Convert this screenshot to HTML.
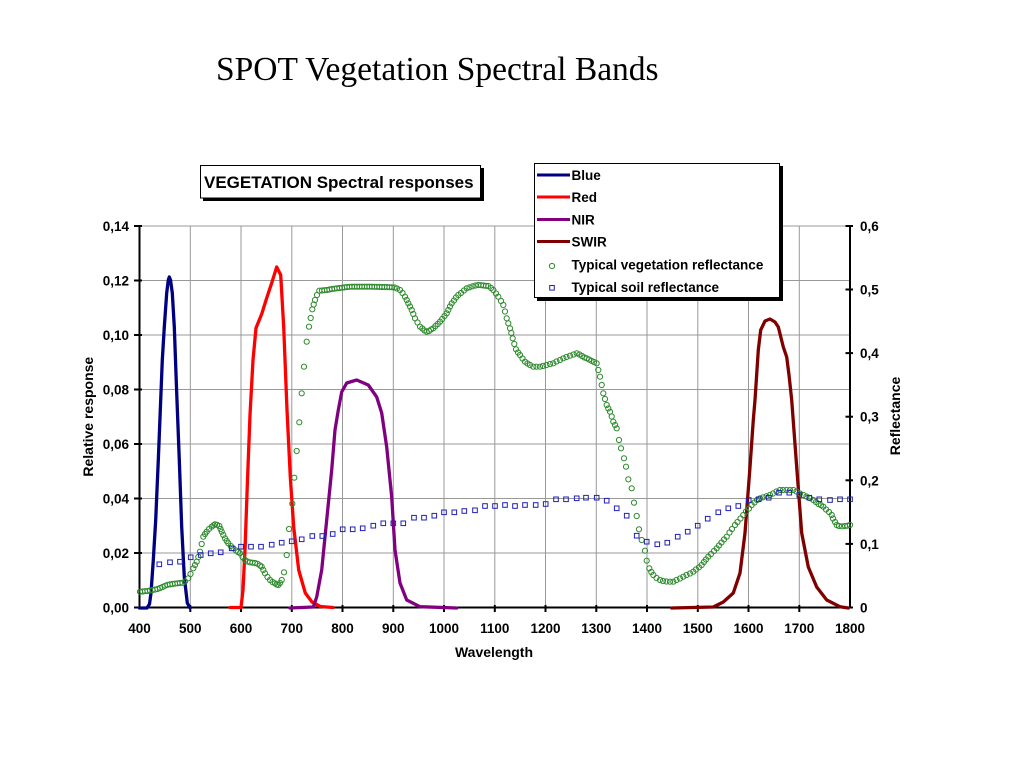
<!DOCTYPE html>
<html><head><meta charset="utf-8"><style>
html,body{margin:0;padding:0;background:#fff;width:1024px;height:768px;overflow:hidden}
svg{display:block}
.t{font-family:"Liberation Sans",Arial,sans-serif;font-weight:bold;font-size:13.5px;fill:#000}
</style></head><body>
<svg width="1024" height="768" viewBox="0 0 1024 768" xmlns="http://www.w3.org/2000/svg">
<defs>
<marker id="c" markerWidth="8" markerHeight="8" refX="4" refY="4" markerUnits="userSpaceOnUse"><circle cx="4" cy="4" r="2.6" fill="none" stroke="#2e8b2e" stroke-width="1"/></marker>
<marker id="s" markerWidth="8" markerHeight="8" refX="4" refY="4" markerUnits="userSpaceOnUse"><rect x="1.7" y="1.7" width="4.6" height="4.6" fill="none" stroke="#2020b8" stroke-width="1"/></marker>
</defs>
<rect width="1024" height="768" fill="#fff"/>
<text x="216" y="80" font-family="'Liberation Serif','Times New Roman',serif" font-size="33.5" fill="#000">SPOT Vegetation Spectral Bands</text>

<!-- grid -->
<g stroke="#999" stroke-width="1">
<line x1="139.5" y1="226" x2="850" y2="226"/>
<line x1="139.5" y1="280.5" x2="850" y2="280.5"/>
<line x1="139.5" y1="335" x2="850" y2="335"/>
<line x1="139.5" y1="389.5" x2="850" y2="389.5"/>
<line x1="139.5" y1="444" x2="850" y2="444"/>
<line x1="139.5" y1="498.5" x2="850" y2="498.5"/>
<line x1="139.5" y1="553" x2="850" y2="553"/>
<line x1="190.3" y1="226" x2="190.3" y2="607.5"/>
<line x1="241" y1="226" x2="241" y2="607.5"/>
<line x1="291.8" y1="226" x2="291.8" y2="607.5"/>
<line x1="342.5" y1="226" x2="342.5" y2="607.5"/>
<line x1="393.3" y1="226" x2="393.3" y2="607.5"/>
<line x1="444" y1="226" x2="444" y2="607.5"/>
<line x1="494.8" y1="226" x2="494.8" y2="607.5"/>
<line x1="545.5" y1="226" x2="545.5" y2="607.5"/>
<line x1="596.3" y1="226" x2="596.3" y2="607.5"/>
<line x1="647" y1="226" x2="647" y2="607.5"/>
<line x1="697.8" y1="226" x2="697.8" y2="607.5"/>
<line x1="748.5" y1="226" x2="748.5" y2="607.5"/>
<line x1="799.3" y1="226" x2="799.3" y2="607.5"/>
</g>

<!-- axes -->
<g stroke="#000" stroke-width="2">
<line x1="139.5" y1="225" x2="139.5" y2="608.5"/>
<line x1="850" y1="225" x2="850" y2="608.5"/>
<line x1="138.5" y1="607.5" x2="851" y2="607.5"/>
<line x1="134" y1="226" x2="142" y2="226"/>
<line x1="134" y1="280.5" x2="142" y2="280.5"/>
<line x1="134" y1="335" x2="142" y2="335"/>
<line x1="134" y1="389.5" x2="142" y2="389.5"/>
<line x1="134" y1="444" x2="142" y2="444"/>
<line x1="134" y1="498.5" x2="142" y2="498.5"/>
<line x1="134" y1="553" x2="142" y2="553"/>
<line x1="134" y1="607.5" x2="142" y2="607.5"/>
<line x1="845.5" y1="226" x2="853" y2="226"/>
<line x1="845.5" y1="289.5" x2="853" y2="289.5"/>
<line x1="845.5" y1="353.1" x2="853" y2="353.1"/>
<line x1="845.5" y1="416.7" x2="853" y2="416.7"/>
<line x1="845.5" y1="480.3" x2="853" y2="480.3"/>
<line x1="845.5" y1="543.9" x2="853" y2="543.9"/>
<line x1="845.5" y1="607.5" x2="853" y2="607.5"/>
<line x1="190.3" y1="605" x2="190.3" y2="612"/>
<line x1="241" y1="605" x2="241" y2="612"/>
<line x1="291.8" y1="605" x2="291.8" y2="612"/>
<line x1="342.5" y1="605" x2="342.5" y2="612"/>
<line x1="393.3" y1="605" x2="393.3" y2="612"/>
<line x1="444" y1="605" x2="444" y2="612"/>
<line x1="494.8" y1="605" x2="494.8" y2="612"/>
<line x1="545.5" y1="605" x2="545.5" y2="612"/>
<line x1="596.3" y1="605" x2="596.3" y2="612"/>
<line x1="647" y1="605" x2="647" y2="612"/>
<line x1="697.8" y1="605" x2="697.8" y2="612"/>
<line x1="748.5" y1="605" x2="748.5" y2="612"/>
<line x1="799.3" y1="605" x2="799.3" y2="612"/>
</g>

<!-- y labels left -->
<g class="t" text-anchor="end">
<text x="129" y="231">0,14</text>
<text x="129" y="285.5">0,12</text>
<text x="129" y="340">0,10</text>
<text x="129" y="394.5">0,08</text>
<text x="129" y="449">0,06</text>
<text x="129" y="503.5">0,04</text>
<text x="129" y="558">0,02</text>
<text x="129" y="612.5">0,00</text>
</g>
<!-- y labels right -->
<g class="t">
<text x="860" y="231">0,6</text>
<text x="860" y="294.5">0,5</text>
<text x="860" y="358">0,4</text>
<text x="860" y="421.7">0,3</text>
<text x="860" y="485.3">0,2</text>
<text x="860" y="549">0,1</text>
<text x="860" y="612.5">0</text>
</g>
<!-- x labels -->
<g class="t" text-anchor="middle">
<text x="139.5" y="633">400</text>
<text x="190.3" y="633">500</text>
<text x="241" y="633">600</text>
<text x="291.8" y="633">700</text>
<text x="342.5" y="633">800</text>
<text x="393.3" y="633">900</text>
<text x="444" y="633">1000</text>
<text x="494.8" y="633">1100</text>
<text x="545.5" y="633">1200</text>
<text x="596.3" y="633">1300</text>
<text x="647" y="633">1400</text>
<text x="697.8" y="633">1500</text>
<text x="748.5" y="633">1600</text>
<text x="799.3" y="633">1700</text>
<text x="850" y="633">1800</text>
</g>
<text class="t" x="494" y="657" text-anchor="middle" style="font-size:14px">Wavelength</text>
<text class="t" x="0" y="0" text-anchor="middle" style="font-size:14px" transform="translate(93,416.7) rotate(-90)">Relative response</text>
<text class="t" x="0" y="0" text-anchor="middle" style="font-size:14px" transform="translate(900,416) rotate(-90)">Reflectance</text>

<!-- band curves -->
<g fill="none" stroke-width="3.3" stroke-linejoin="round" stroke-linecap="round">
<polyline stroke="#000080" points="139.5,608 147,608 149.5,604 151,593 153.3,560 155.7,520 158.3,460 160.3,410 162.3,360 164.3,327 166.7,293 168.3,280 169.3,277 170.5,280 172.3,293 174.3,327 176.7,393 179.3,460 181.7,527 184.3,577 187.3,603 190,608"/>
<polyline stroke="#ff0000" points="230,607.5 241,607.5 243,590 245,550 247.5,480 250,415 253,360 256,328 261.7,314 266.7,298 271.7,283 276.7,267 280.7,275 283.7,327 287,410 290.3,477 293.7,527 298.7,570 305.3,593 312,602 320.3,606.5 333,607.5"/>
<polyline stroke="#800080" points="290,608 313.3,607 316.7,597 321.7,570 326.7,520 331.7,470 335,430 338.3,410 341.7,392 346.7,383 356.7,380 368.3,385 376.7,397 381.7,413 386.7,447 391.7,497 395,550 400,583 406.7,600 420,606.7 456.7,608"/>
<polyline stroke="#800000" points="671.7,608 713.3,607 723.3,602 733.3,593 740,573 745,533 750,467 753.3,420 755,400 758.3,350 760.7,330 765,321 770,319 775,322 778.3,327 783.3,347 786.7,357 789,375 791.7,400 796.7,467 801.7,533 808.3,567 816.7,587 826.7,600 840,606.7 848.3,608"/>
</g>

<!-- vegetation reflectance -->
<polyline fill="none" stroke="none" marker-start="url(#c)" marker-mid="url(#c)" marker-end="url(#c)" points="140,591.7 142.5,591.5 145,591.2 147.5,591 150,590.5 152.5,590 155,589.6 157.5,589 160,588 162.5,587 165,585.8 167.5,584.8 170,584.4 172.5,584 175,583.6 177.5,583.3 180,583 182.5,582.8 185,581.5 188.3,578.3 190.5,574 193.3,568.3 195,565 196.7,561.7 198.3,557 200,551.7 201.7,544 203.3,536.7 205,534 206.7,531.7 209,529 211.7,526.7 213.5,525.3 215,524.3 217,524.8 219.3,526 220.5,529 221.7,531.7 223.3,535 225,538.3 226.7,541 228.3,543.3 230.8,546 233.3,548.3 236,550.5 238,552 240,553.3 242.5,557 245,560 247.5,561.5 250,562.3 252.5,562.7 255,563 257.5,563.8 260,565.5 261.7,566.7 263.3,570 265,573.3 267.5,577 270,580 272.5,582 275,583.3 276.7,584.5 278.3,585 280,583 281.7,580 284,572.3 286.7,555 289,529 292.3,503.7 294.3,477.7 296.7,451 299.3,422.3 301.7,393.3 304,366.7 306.7,341.7 309,326.7 310.7,318 312.3,309.3 313.7,304.5 315,300 317,295 319.3,290.7 322,290.5 324.5,290.2 327,290 329.5,289.5 332,289 334.5,288.7 337,288.3 339.5,288 342,287.7 344.5,287.4 347,287 349.5,286.8 352,286.7 354.5,286.7 357,286.7 359.5,286.7 362,286.7 364.5,286.7 367,286.7 369.5,286.7 372,286.7 374.5,286.8 377,286.8 379.5,286.9 382,287 384.5,287 387,287.1 389.5,287.2 392,287.3 394.5,287.5 397,288.5 400,290 402.5,293 405,296.7 406.7,300 408.3,303.3 410,306.5 411.7,310 413.3,314 415,318.3 417.5,322.5 420,326.7 422.3,328.5 424.5,330.5 426.7,331.7 429,331 431,329.5 433.3,328.3 435.5,326 437.8,324 440,321.7 442.2,319 444.5,316 446.7,313.3 448.3,310 450,306.5 451.7,303.3 454,300.5 456,297.5 458.3,295 461,293 464,290.5 466.7,288.3 469.5,287.3 472.5,286.3 475.5,285.5 478.3,285 481,285.2 483.5,285.5 486,285.8 488.3,286 491,288 493.3,290 496,293.5 498.3,296.7 501,301 503.3,305 505,311.5 506.7,318.3 508.3,323.3 510,328.3 511.3,333 512.7,338.3 514.3,344 516,349.3 518,352.5 520,355 522.5,358.5 525,361.7 527.5,363.5 530,365 533.3,366.7 536.5,366.7 540,366.7 543,366 546.5,365 550,364 553.3,363.3 556.5,361.5 560,360 563.3,358.3 566.5,357 570,355.7 573.5,354.5 576.7,353.3 579.5,354.5 582,356 584.5,357.5 586.7,358.3 589,359.5 591.5,360.8 594,362 596.7,363.3 598.3,370 600,376.7 601.7,385 603.3,393.3 605,399 606.7,405 608.3,408.5 610,411.7 611.7,416.5 613.3,421.7 615,425 616.7,428.3 619,440 621,448.3 624,458.3 626,466.7 628.3,479.3 631.7,488.3 634,502.7 636.7,516 639,529.3 641.7,540 645,550.7 646.7,560.7 649.3,568.3 651.3,572 653.3,575 656.5,578 660,580 663,581 666.5,581.5 670,581.7 673.3,581.7 676.5,580 680,578.5 683.3,576.7 686.5,575 690,573.5 693.3,571.7 696,569.5 699,567.3 701.7,565 704,562 706,559.5 708.3,556.7 711,554 714,551 716.7,548.3 719,545.5 721.5,542.5 724,539.5 726.7,536.7 729.5,532.5 732,529 735,525 737.5,522 740.5,518.5 743.3,515 746,511.5 749,508.5 751.7,505 754.5,502.5 757,500 760,498.3 763,497.3 766.5,496.2 770,495 773,493.5 776.5,491.5 780,490 783,490 786.5,490 790,490 793.3,490 796.5,491.5 800,493.5 803.3,495 806.5,496.5 810,498.3 813.3,500 816,502 818.5,504 821,505.2 823.3,506.7 826,509.5 829,512 831.7,515 833,518.5 835,522 836.7,525 839,526 842,526.3 845,526 847.5,525.7 850,525"/>

<!-- soil reflectance -->
<polyline fill="none" stroke="none" marker-start="url(#s)" marker-mid="url(#s)" marker-end="url(#s)" points="159.3,564.3 170,562.3 180,561.7 190.7,557.3 200.7,555 210.7,553.3 220.7,552.3 231.7,548.3 241,546.7 251,546.7 261,546.7 271.7,544.7 281.7,542.7 291.7,541.3 301.7,539.3 312.3,536 322.3,536 332.7,534 342.7,529.3 352.7,529.3 362.7,528.3 373.3,525.7 383.3,523.3 393.3,523.3 403.3,523.3 414,517.7 424,517.7 434.3,515.7 444,512.3 454.3,512.3 464.3,511 475,510.3 485,506 495,506 505,505 515,506 525,505 535.7,505 545.7,504 556,499.3 566,499.3 576.7,498.3 586,497.7 596.7,497.7 606.7,500.7 616.7,508.3 626.7,515.7 636.7,535.7 646.7,541.7 657.3,544.3 667.3,542.7 677.7,536.7 687.7,531.7 697.7,525.7 707.7,518.7 718.3,512.3 728.3,508.3 738.3,506 748.7,500 758.7,499.3 768.7,497.7 779,492.7 789.3,492.7 799.3,495 809.3,497.7 819.3,499.3 830,500 840,499.3 850,499.3"/>

<!-- chart title box -->
<rect x="203" y="168" width="281" height="33" fill="#000"/>
<rect x="200.5" y="165.5" width="280" height="32.5" fill="#fff" stroke="#000" stroke-width="1"/>
<text class="t" x="204" y="188" style="font-size:17px">VEGETATION Spectral responses</text>

<!-- legend -->
<rect x="537" y="166" width="246" height="135" fill="#000"/>
<rect x="534.5" y="163.5" width="245" height="134" fill="#fff" stroke="#000" stroke-width="1"/>
<g stroke-width="3">
<line x1="537" y1="175" x2="570" y2="175" stroke="#000080"/>
<line x1="537" y1="197" x2="570" y2="197" stroke="#ff0000"/>
<line x1="537" y1="219.5" x2="570" y2="219.5" stroke="#800080"/>
<line x1="537" y1="241.5" x2="570" y2="241.5" stroke="#800000"/>
</g>
<circle cx="552" cy="266" r="2.6" fill="none" stroke="#2e8b2e" stroke-width="1"/>
<rect x="549.7" y="285.5" width="4.6" height="4.6" fill="none" stroke="#2020b8" stroke-width="1"/>
<g class="t">
<text x="571.5" y="180">Blue</text>
<text x="571.5" y="202">Red</text>
<text x="571.5" y="224.5">NIR</text>
<text x="571.5" y="246.5">SWIR</text>
<text x="571.5" y="269.5">Typical vegetation reflectance</text>
<text x="571.5" y="292">Typical soil reflectance</text>
</g>
</svg>
</body></html>
